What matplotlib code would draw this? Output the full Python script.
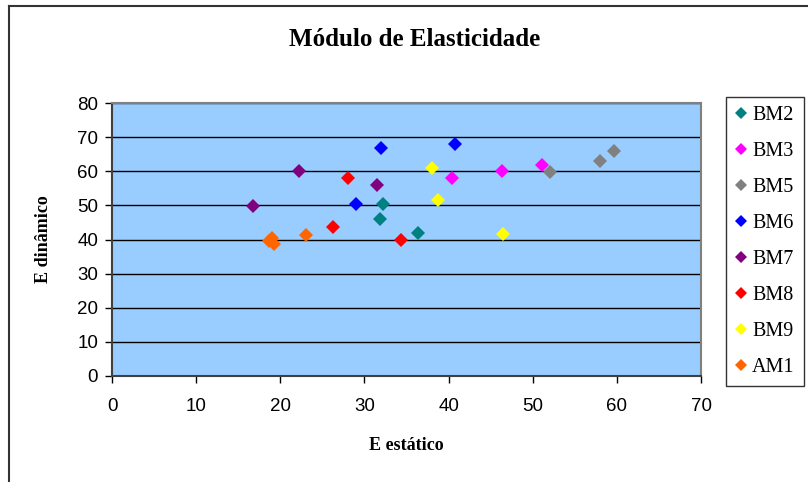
import matplotlib.pyplot as plt
from matplotlib.lines import Line2D

series = ["BM2", "BM3", "BM5", "BM6", "BM7", "BM8", "BM9", "AM1"]
colors = ["#008080", "#FF00FF", "#808080", "#0000FF", "#800080", "#FF0000", "#FFFF00", "#FF6600"]

e_estatico = {
    "BM2": [31.9, 32.2, 36.4],
    "BM3": [40.4, 46.3, 51.1],
    "BM5": [52.1, 58.0, 59.7],
    "BM6": [32.0, 29.0, 40.8],
    "BM7": [16.7, 22.2, 31.5],
    "BM8": [26.3, 28.1, 34.3],
    "BM9": [38.0, 38.8, 46.5],
    "AM1": [18.7, 19.0, 19.3, 23.0],
}
e_dinamico = {
    "BM2": [46.0, 50.4, 42.0],
    "BM3": [58.1, 60.1, 61.9],
    "BM5": [59.9, 63.0, 66.0],
    "BM6": [66.9, 50.4, 68.0],
    "BM7": [49.9, 60.0, 55.9],
    "BM8": [43.6, 58.0, 39.9],
    "BM9": [61.0, 51.5, 41.6],
    "AM1": [39.5, 40.3, 38.8, 41.2],
}

W, H = 808, 482
fig = plt.figure(figsize=(W / 100, H / 100), dpi=100)
ax = fig.add_axes([112 / W, 1 - 376 / H, 589 / W, 273 / H])
ax.set_facecolor("#99CCFF")

for name, c in zip(series, colors):
    ax.plot(e_estatico[name], e_dinamico[name], linestyle="none", marker="D",
            markersize=7, color=c, markeredgewidth=0, label=name, zorder=3)

ax.set_xlim(0, 70)
ax.set_ylim(0, 80)
ax.set_xticks(range(0, 71, 10))
ax.set_yticks(range(0, 81, 10))
ax.grid(axis="y", color="black", linewidth=1, zorder=1)
ax.set_axisbelow(True)
for s in ["left", "bottom"]:
    ax.spines[s].set_color("#404040")
    ax.spines[s].set_linewidth(1.5)
for s in ["top", "right"]:
    ax.spines[s].set_color("#808080")
    ax.spines[s].set_linewidth(1.5)
ax.tick_params(direction="out", length=5, width=1, colors="black", labelsize=13.5)
ax.tick_params(axis="x", pad=11)
ax.tick_params(axis="y", pad=5)
for lab in ax.get_xticklabels() + ax.get_yticklabels():
    lab.set_family("Liberation Sans")

ax.set_xlabel("E estático", family="Liberation Serif", fontweight="bold",
              fontsize=13, labelpad=16)
ax.set_ylabel("E dinâmico", family="Liberation Serif", fontweight="bold",
              fontsize=13, labelpad=18)
fig.text(415 / W, 1 - 40 / H, "Módulo de Elasticidade", ha="center", va="center",
         family="Liberation Serif", fontweight="bold", fontsize=18)

handles = [Line2D([], [], linestyle="none", marker="D", markersize=6, color=c,
                  markeredgewidth=0) for c in colors]
leg = fig.legend(handles, series, loc="upper left",
                 bbox_to_anchor=(726 / W, 1 - 97 / H),
                 prop={"family": "Liberation Serif", "size": 14.5},
                 frameon=True, fancybox=False, edgecolor="black",
                 handlelength=0.6, handletextpad=0.25, labelspacing=0.84,
                 borderpad=0.45, borderaxespad=0)
leg.get_frame().set_linewidth(1)

# chart area border (left and top)
fig.add_artist(Line2D([9 / W, 9 / W], [0, 1 - 6 / H], color="#333333", linewidth=1.5))
fig.add_artist(Line2D([9 / W, 1], [1 - 6 / H, 1 - 6 / H], color="#333333", linewidth=1.5))

fig.savefig("out.png", dpi=100)
